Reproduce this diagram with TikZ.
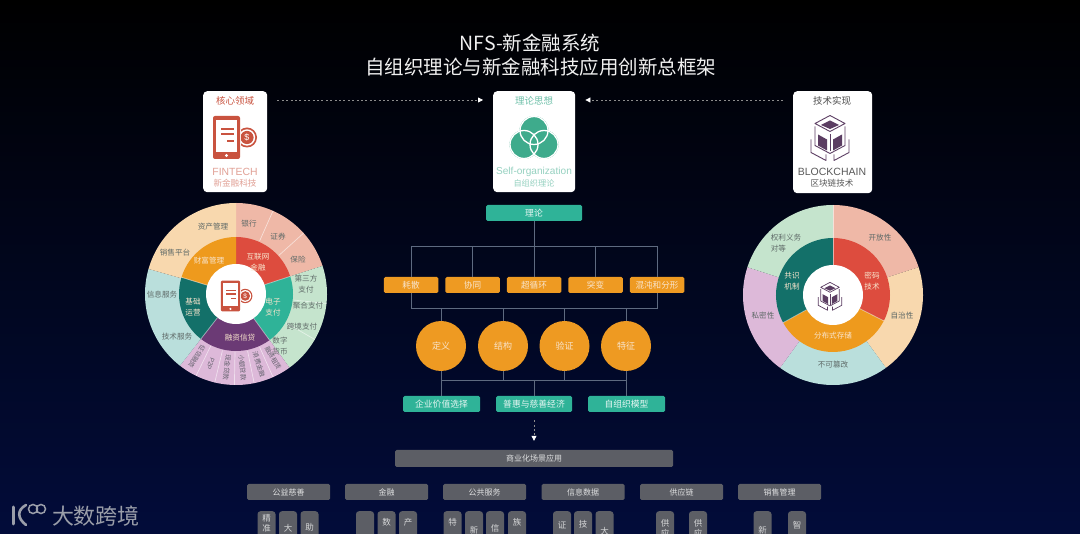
\documentclass[tikz,border=0pt]{standalone}
\usepackage{fontspec}
\setmainfont{Noto Sans CJK SC}
\newfontfamily\latinfont{Liberation Sans}
\usetikzlibrary{arrows.meta,calc}
\definecolor{bgTop}{HTML}{000000}
\definecolor{bgMid}{HTML}{01061C}
\definecolor{bgBot}{HTML}{020C3A}
\definecolor{cardRed}{HTML}{C9533F}
\definecolor{cardGreen}{HTML}{3EAB8C}
\definecolor{cardPurple}{HTML}{5B3D62}
\definecolor{tealc}{HTML}{2FB398}
\definecolor{amber}{HTML}{EE9A22}
\definecolor{slate}{HTML}{5C5E65}
\definecolor{wirec}{HTML}{5E6A80}
\definecolor{sSalmon}{HTML}{EFB8A7}
\definecolor{sPeach}{HTML}{F8D8AE}
\definecolor{sCyan}{HTML}{BADFDC}
\definecolor{sPink}{HTML}{DDB9D9}
\definecolor{sGreen}{HTML}{C5E4CD}
\definecolor{rRed}{HTML}{DD4C3E}
\definecolor{rOrange}{HTML}{EE9A1D}
\definecolor{rDeep}{HTML}{137069}
\definecolor{rPurple}{HTML}{6B3A75}
\definecolor{rTeal}{HTML}{2FB398}
\definecolor{wheelText}{HTML}{5F6A68}
\definecolor{ringText}{HTML}{F8E4CC}
\definecolor{wmgray}{HTML}{9A9EA9}
\newcommand{\sector}[5]{\fill[#5] (#1:#3) arc[start angle=#1,end angle=#2,radius=#3] -- (#2:#4) arc[start angle=#2,end angle=#1,radius=#4] -- cycle;}
\newcommand{\spoke}[3]{\draw[white,opacity=.55,line width=.7pt] (#1:#2) -- (#1:#3);}
\newcommand{\colb}[4]{\node[colbox] (#1) at (#2,511) {};\node[coltxt] at (#2,#4) {#3};}
\tikzset{
  fs/.style={font=\fontsize{#1}{#1}\selectfont},
  card/.style={fill=white,rounded corners=4pt,inner sep=0pt,anchor=north west},
  tealbox/.style={fill=tealc,rounded corners=1.5pt,inner sep=0pt,minimum height=16pt,text=white!88!tealc,fs=8.8},
  ambox/.style={fill=amber,rounded corners=1.5pt,inner sep=0pt,minimum width=54.5pt,minimum height=16pt,text=ringText,fs=8.6},
  amcircle/.style={circle,fill=amber,inner sep=0pt,minimum size=50pt,text=ringText,fs=9},
  catbox/.style={fill=slate,rounded corners=1.5pt,inner sep=0pt,minimum width=83pt,minimum height=16pt,text=white!80!slate,fs=8},
  colbox/.style={fill=slate,rounded corners=3pt,inner sep=0pt,minimum width=18pt,minimum height=50pt,anchor=north},
  coltxt/.style={text=white!75!slate,font=\fontsize{8.5}{10}\selectfont,align=center,inner sep=0pt},
  wireline/.style={draw=wirec,line width=1pt},
  dots/.style={draw=white!55!black,line width=.8pt,dash pattern=on 2pt off 2.4pt,-{Triangle[length=5pt,width=5pt,color=white]},shorten >=10pt,shorten <=10pt},
  wtxt/.style={text=wheelText,font=\fontsize{7.6}{10.5}\selectfont,align=center,inner sep=0pt},
  rtxt/.style={text=ringText,font=\fontsize{7.6}{11}\selectfont,align=center,inner sep=0pt},
  radial/.style={text=wheelText!80!rPurple,fs=6.4,inner sep=0pt},
  finicon/.pic={
    \fill[cardRed] (17,0) circle (10);
    \fill[white] (17,0) circle (8.2);
    \fill[cardRed] (17,0) circle (6.6);
    \node[text=white,transform shape,fs=9,inner sep=0pt] at (17,0) {\latinfont\$};
    \fill[white] (-18.2,-22.7) rectangle (11.2,22.7);
    \fill[cardRed,rounded corners=2pt] (-17,-21.5) rectangle (10,21.5);
    \fill[white] (-14,-17.5) rectangle (7,14.5);
    \fill[cardRed] (-9.5,-9) rectangle (3.5,-7);
    \fill[cardRed] (-9.5,-4) rectangle (3.5,-2);
    \fill[cardRed] (-3,2.5) rectangle (3.5,4.5);
    \fill[white] (-3.5,18) circle (1.7);
  },
  blockicon/.pic={
    \draw[cardPurple,line join=round] (0,-22) -- (15,-14) -- (0,-6) -- (-15,-14) -- cycle;
    \fill[cardPurple] (0,-17) -- (9,-12.5) -- (0,-8.5) -- (-9,-12.5) -- cycle;
    \draw[cardPurple,line join=round] (-15,-11) -- (-15,8) -- (0,16) -- (15,8) -- (15,-11);
    \draw[cardPurple,line join=round] (0,-3) -- (0,14);
    \fill[cardPurple] (-12,-3) -- (-3,2) -- (-3,13) -- (-12,8) -- cycle;
    \fill[cardPurple] (12,-3) -- (3,2) -- (3,13) -- (12,8) -- cycle;
    \draw[cardPurple,line join=round] (-19,2) -- (-19,15) -- (-4,23) -- (-4,17);
    \draw[cardPurple,line join=round] (19,2) -- (19,15) -- (4,23) -- (4,17);
  }
}
\begin{document}
\begin{tikzpicture}[x=1pt,y=-1pt]
\useasboundingbox (0,0) rectangle (1080,534);
\clip (0,0) rectangle (1080,534);
\shade[top color=bgTop,middle color=bgMid,bottom color=bgBot] (0,0) rectangle (1080,534);

% title
\node[text=white!94!black,fs=19.5,inner sep=0pt] (title1) at (530,43) {NFS-新金融系统};
\node[text=white!94!black,fs=19.5,inner sep=0pt] (title2) at (540.5,67) {自组织理论与新金融科技应用创新总框架};

% cards
\node[card,minimum width=64pt,minimum height=101pt] (cardL) at (203,91) {};
\node[card,minimum width=82pt,minimum height=101pt] (cardM) at (493,91) {};
\node[card,minimum width=79pt,minimum height=102pt] (cardR) at (793,91) {};
\draw[dots] ([yshift=-9pt]cardL.north east) -- ([yshift=-9pt]cardM.north west);
\draw[dots] ([yshift=-9pt]cardR.north west) -- ([yshift=-9pt]cardM.north east);

\node[text=cardRed,fs=9.5,inner sep=0pt] (cl1) at (235,101) {核心领域};
\pic at (230,137.5) {finicon};
\node[text=cardRed!55!white,fs=10.4,inner sep=0pt] (cl2) at (235,172) {\latinfont FINTECH};
\node[text=cardRed!55!white,fs=8.6,inner sep=0pt] (cl3) at (235,183) {新金融科技};

\node[text=cardGreen!75!white,fs=9.5,inner sep=0pt] (cm1) at (534,101) {理论思想};
\fill[cardGreen] (534,130.5) circle (14.5);
\fill[cardGreen] (524,144.5) circle (14.5);
\fill[cardGreen] (544,144.5) circle (14.5);
\draw[white,line width=1.3pt] (534,130.5) circle (14);
\draw[white,line width=1.3pt] (524,144.5) circle (14);
\draw[white,line width=1.3pt] (544,144.5) circle (14);
\node[text=cardGreen!55!white,fs=10.1,inner sep=0pt] (cm2) at (534,172) {\latinfont Self-organization};
\node[text=cardGreen!55!white,fs=8.2,inner sep=0pt] (cm3) at (534,183) {自组织理论};

\node[text=black!70,fs=9.5,inner sep=0pt] (cr1) at (832,101) {技术实现};
\pic[line width=.9pt] at (830,137.5) {blockicon};
\node[text=black!65,fs=10.5,inner sep=0pt] (cr2) at (832,172) {\latinfont BLOCKCHAIN};
\node[text=black!65,fs=8.6,inner sep=0pt] (cr3) at (832,183) {区块链技术};

% left wheel
\begin{scope}[shift={(236,294)},x=1pt,y=1pt]
  \sector{90}{18}{91pt}{55pt}{sSalmon}
  \sector{18}{-54}{91pt}{55pt}{sGreen}
  \sector{-54}{-128}{91pt}{55pt}{sPink}
  \sector{-128}{-196}{91pt}{55pt}{sCyan}
  \sector{164}{90}{91pt}{55pt}{sPeach}
  \sector{90}{18}{57pt}{29pt}{rRed}
  \sector{18}{-54}{57pt}{29pt}{rTeal}
  \sector{-54}{-128}{57pt}{29pt}{rPurple}
  \sector{-128}{-197}{57pt}{29pt}{rDeep}
  \sector{163}{90}{57pt}{29pt}{rOrange}
  \spoke{66}{58pt}{91pt}
  \spoke{42}{58pt}{91pt}
  \spoke{-6}{58pt}{91pt}
  \spoke{-30}{58pt}{91pt}
  \foreach \a in {-116,-103.5,-91,-78.5,-66}{\spoke{\a}{58pt}{91pt}}
  \spoke{18}{30pt}{57pt}
  \spoke{-54}{30pt}{57pt}
  \spoke{-128}{30pt}{57pt}
  \spoke{163}{30pt}{57pt}
  \fill[white] (0,0) circle (30pt);
  \node[radial,rotate=-122] (p1) at (-122:74pt) {征信融资};
  \node[radial,rotate=-110] (p2) at (-110:74pt) {\latinfont P2P};
  \node[radial,rotate=-97] (p3) at (-97:74pt) {现金贷款};
  \node[radial,rotate=-85] (p4) at (-85:74pt) {小额贷款};
  \node[radial,rotate=-72] (p5) at (-72:74pt) {消费金融};
  \node[radial,rotate=-60] (p6) at (-60:74pt) {融资租赁};
\end{scope}
\pic[scale=.72] at (233,296) {finicon};
\node[wtxt] (w1) at (213,227) {资产管理};
\node[wtxt] (w2) at (249,224) {银行};
\node[wtxt] (w3) at (278,237) {证券};
\node[wtxt] (w4) at (298,260) {保险};
\node[wtxt] (w5) at (306,284) {第三方\\支付};
\node[wtxt] (w6) at (308,306) {聚合支付};
\node[wtxt] (w7) at (302,327) {跨境支付};
\node[wtxt] (w8) at (280,346) {数字\\货币};
\node[wtxt] (w9) at (175,253) {销售平台};
\node[wtxt] (w10) at (162,295) {信息服务};
\node[wtxt] (w11) at (177,337) {技术服务};
\node[rtxt] (r1) at (209,261) {财富管理};
\node[rtxt] (r2) at (258,262) {互联网\\金融};
\node[rtxt] (r3) at (273,307) {电子\\支付};
\node[rtxt] (r4) at (193,307) {基础\\运营};
\node[rtxt] (r5) at (240,338) {融资信贷};

% right wheel
\begin{scope}[shift={(833,295)},x=1pt,y=1pt]
  \sector{90}{18}{90pt}{55pt}{sSalmon}
  \sector{18}{-54}{90pt}{55pt}{sPeach}
  \sector{-54}{-126}{90pt}{55pt}{sCyan}
  \sector{-126}{-198}{90pt}{55pt}{sPink}
  \sector{162}{90}{90pt}{55pt}{sGreen}
  \sector{90}{-27}{57pt}{29pt}{rRed}
  \sector{-27}{-151}{57pt}{29pt}{rOrange}
  \sector{-151}{-270}{57pt}{29pt}{rDeep}
  \spoke{90}{30pt}{90pt}
  \spoke{-27}{30pt}{57pt}
  \spoke{-151}{30pt}{57pt}
  \fill[white] (0,0) circle (30pt);
\end{scope}
\pic[scale=.62,line width=.7pt] at (830,296) {blockicon};
\node[wtxt] (x1) at (880,238) {开放性};
\node[wtxt] (x2) at (902,316) {自治性};
\node[wtxt] (x3) at (833,365) {不可篡改};
\node[wtxt] (x4) at (763,316) {私密性};
\node[wtxt,align=left] (x5) at (786,243) {权利义务\\对等};
\node[rtxt] (y1) at (872,281) {密码\\技术};
\node[rtxt] (y2) at (833,336) {分布式存储};
\node[rtxt] (y3) at (792,281) {共识\\机制};

% centre column
\node[tealbox,minimum width=96pt] (theory) at (534,213) {理论};
\node[ambox] (b1) at (411,285) {耗散};
\node[ambox] (b2) at (472.5,285) {协同};
\node[ambox] (b3) at (534,285) {超循环};
\node[ambox] (b4) at (595.5,285) {突变};
\node[ambox] (b5) at (657,285) {混沌和分形};
\node[amcircle] (c1) at (441,346) {定义};
\node[amcircle] (c2) at (503,346) {结构};
\node[amcircle] (c3) at (564.5,346) {验证};
\node[amcircle] (c4) at (626,346) {特征};
\node[tealbox,minimum width=77pt] (t1) at (441.5,404) {企业价值选择};
\node[tealbox,minimum width=76pt] (t2) at (534,404) {普惠与慈善经济};
\node[tealbox,minimum width=77pt] (t3) at (626.5,404) {自组织模型};
\node[fill=slate,rounded corners=1.5pt,inner sep=0pt,minimum width=278pt,minimum height=17pt,text=white!80!slate,fs=8] (bar) at (534,458.5) {商业化场景应用};
\coordinate (busA) at (534,247);
\coordinate (busB) at (534,309);
\coordinate (busC) at (534,381);
\draw[wireline] (theory.south) -- (b3.north);
\draw[wireline] (b1.north) -- (b1.north |- busA) -- (b5.north |- busA) -- (b5.north);
\draw[wireline] (b2.north) -- (b2.north |- busA);
\draw[wireline] (b4.north) -- (b4.north |- busA);
\draw[wireline] (b1.south) -- (b1.south |- busB) -- (b5.south |- busB) -- (b5.south);
\foreach \n in {c1,c2,c3,c4}{\draw[wireline] (\n.north) -- (\n.north |- busB);}
\draw[wireline] (c1.south) -- (c1.south |- busC) -- (c4.south |- busC) -- (c4.south);
\draw[wireline] (c2.south) -- (c2.south |- busC);
\draw[wireline] (c3.south) -- (c3.south |- busC);
\draw[wireline] (c1.south |- busC) -- (t1.north -| c1.south);
\draw[wireline] (busC) -- (t2.north);
\draw[wireline] (c4.south |- busC) -- (t3.north -| c4.south);
\draw[draw=white!55!black,line width=.8pt,dash pattern=on 2pt off 2.4pt,-{Triangle[length=5pt,width=5pt,color=white]},shorten >=9pt,shorten <=8pt] (t2.south) -- (bar.north);

% categories
\node[catbox] (k1) at (288.5,492) {公益慈善};
\node[catbox] (k2) at (386.5,492) {金融};
\node[catbox] (k3) at (484.5,492) {公共服务};
\node[catbox] (k4) at (583,492) {信息数据};
\node[catbox] (k5) at (681.5,492) {供应链};
\node[catbox] (k6) at (779.5,492) {销售管理};
\colb{d1}{266.5}{精\\准}{523}
\colb{d2}{288}{大}{528}
\colb{d3}{309.5}{助}{527}
\colb{d4}{365}{}{525}
\colb{d5}{386.5}{数}{522}
\colb{d6}{408}{产}{522}
\colb{d7}{452.5}{特}{522}
\colb{d8}{474}{新}{530}
\colb{d9}{495}{信}{528}
\colb{d10}{517}{族}{522}
\colb{d11}{562}{证}{525}
\colb{d12}{583}{技}{524}
\colb{d13}{604.5}{大}{531}
\colb{d14}{665}{供\\应}{528}
\colb{d15}{698}{供\\应}{528}
\colb{d16}{762.5}{新}{530}
\colb{d17}{797}{智}{525}

% watermark
\draw[wmgray,line width=3pt,line cap=round] (13,507) -- (13,524);
\draw[wmgray,line width=2.6pt,line cap=round] (26,505) .. controls (17,510) and (17,518) .. (26,525);
\draw[wmgray,line width=1.5pt] (33,509) circle (4.5);
\draw[wmgray,line width=1.5pt] (41,509) circle (4.5);
\node[text=wmgray,fs=22,inner sep=0pt] (wm) at (96,516) {大数跨境};
\end{tikzpicture}
\end{document}
